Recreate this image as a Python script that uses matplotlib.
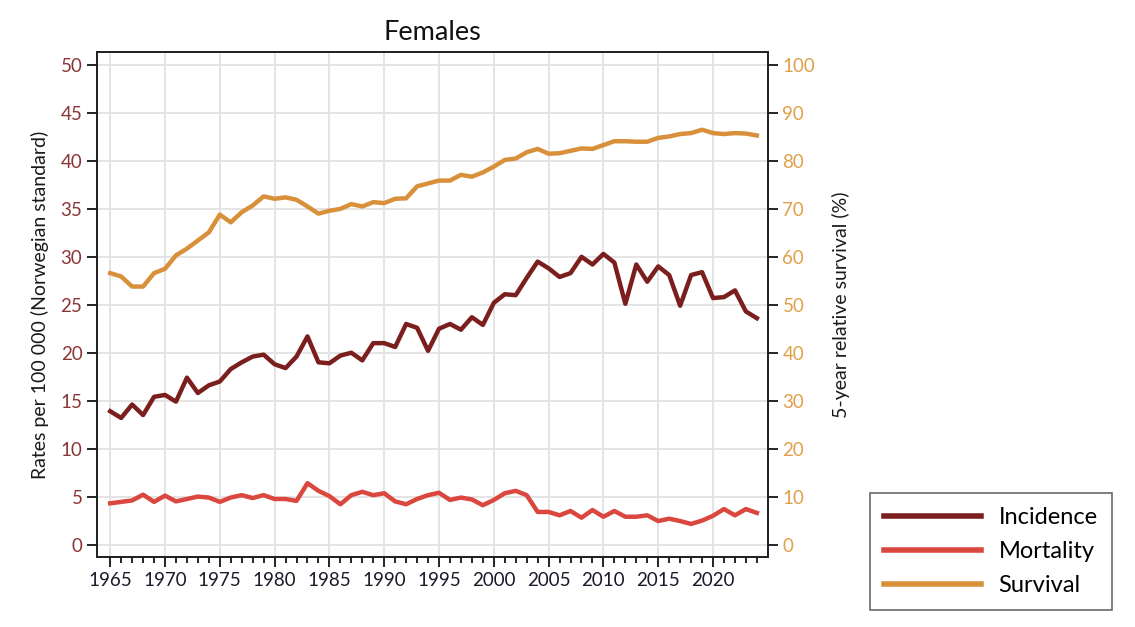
import matplotlib
matplotlib.use('Agg')
import matplotlib.pyplot as plt
from matplotlib.ticker import MultipleLocator

plt.rcParams['font.family'] = ['Lato', 'DejaVu Sans']

years = list(range(1965, 2025))

incidence = [13.9, 13.2, 14.6, 13.5, 15.4, 15.6, 14.9, 17.4, 15.8, 16.6,
             17.0, 18.3, 19.0, 19.6, 19.8, 18.8, 18.4, 19.6, 21.7, 19.0,
             18.9, 19.7, 20.0, 19.2, 21.0, 21.0, 20.6, 23.0, 22.6, 20.2,
             22.5, 23.0, 22.4, 23.7, 22.9, 25.2, 26.1, 26.0, 27.8, 29.5,
             28.8, 27.9, 28.3, 30.0, 29.2, 30.3, 29.4, 25.1, 29.2, 27.4,
             29.0, 28.1, 24.9, 28.1, 28.4, 25.7, 25.8, 26.5, 24.3, 23.6]

mortality = [4.3, 4.45, 4.6, 5.2, 4.45, 5.1, 4.5, 4.75, 5.0, 4.9,
             4.45, 4.9, 5.15, 4.85, 5.15, 4.75, 4.75, 4.55, 6.4, 5.6,
             5.05, 4.2, 5.15, 5.5, 5.15, 5.35, 4.5, 4.2, 4.75, 5.15,
             5.4, 4.65, 4.9, 4.7, 4.1, 4.65, 5.35, 5.6, 5.15, 3.4,
             3.4, 3.05, 3.5, 2.8, 3.6, 2.9, 3.5, 2.9, 2.9, 3.05,
             2.45, 2.7, 2.45, 2.15, 2.5, 3.0, 3.7, 3.05, 3.7, 3.3]

survival = [56.6, 55.9, 53.8, 53.8, 56.6, 57.5, 60.3, 61.7, 63.4, 65.1,
            68.8, 67.2, 69.3, 70.7, 72.6, 72.1, 72.4, 71.9, 70.5, 69.0,
            69.6, 70.0, 71.0, 70.5, 71.4, 71.2, 72.1, 72.2, 74.7, 75.3,
            75.9, 75.9, 77.1, 76.7, 77.6, 78.8, 80.2, 80.5, 81.8, 82.5,
            81.5, 81.6, 82.1, 82.6, 82.5, 83.3, 84.1, 84.1, 84.0, 84.0,
            84.8, 85.1, 85.6, 85.8, 86.5, 85.8, 85.6, 85.8, 85.7, 85.3]

year_ticks = list(range(1965, 2021, 5))

c_inc = '#7a1e1e'
c_mort = '#d9473f'
c_surv = '#d8913a'

fig = plt.figure(figsize=(11.35, 6.27), dpi=100)
ax = fig.add_axes([0.0855, 0.1116, 0.591, 0.8054])
ax2 = ax.twinx()

l1, = ax.plot(years, incidence, color=c_inc, lw=3.2, label='Incidence')
l2, = ax.plot(years, mortality, color=c_mort, lw=3.2, label='Mortality')
l3, = ax2.plot(years, survival, color=c_surv, lw=3.2, label='Survival')

ax.set_xlim(1963.8, 2025.0)
ax.set_ylim(-1.3, 51.35)
ax2.set_ylim(-2.6, 102.7)

ax.set_xticks(year_ticks)
ax.set_xticks(years, minor=True)
ax.yaxis.set_major_locator(MultipleLocator(5))
ax2.yaxis.set_major_locator(MultipleLocator(10))
ax.grid(True, color='#e2e2e2', lw=1.3)
ax.set_axisbelow(True)

ax.tick_params(axis='x', which='major', length=7, width=1.2, labelsize=13.5,
               labelcolor='#1a1a2a', direction='out')
ax.tick_params(axis='x', which='minor', length=4, width=1.2, direction='out')
ax.tick_params(axis='y', length=7, width=1.2, labelsize=13.5,
               labelcolor='#8b3535')
ax2.tick_params(axis='y', length=7, width=1.2, labelsize=13.5,
                labelcolor='#e0a04a')

for a in (ax, ax2):
    for s in a.spines.values():
        s.set_linewidth(1.3)
        s.set_color('#222222')

ax.set_ylabel('Rates per 100 000 (Norwegian standard)', fontsize=14,
              color='#1a1a1a', labelpad=8)
ax2.set_ylabel('5-year relative survival (%)', fontsize=14,
               color='#1a1a1a', labelpad=12)
ax.set_title('Females', fontsize=19.5, color='#111111', pad=9)

leg = fig.legend(handles=[l1, l2, l3], loc='lower left',
                 bbox_to_anchor=(0.7665, 0.027), fontsize=17,
                 frameon=True, fancybox=False, edgecolor='#444444',
                 handlelength=4.1, handletextpad=0.75, borderpad=0.6,
                 labelspacing=0.55, borderaxespad=0)
leg.get_frame().set_linewidth(1.2)
for h in leg.get_lines():
    h.set_linewidth(4)

fig.savefig('out.png', dpi=100)
